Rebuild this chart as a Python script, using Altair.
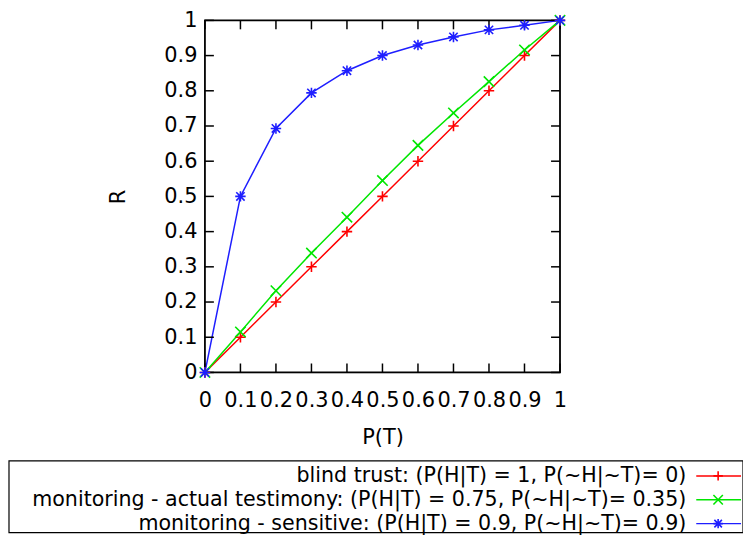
import altair as alt
import pandas as pd

# ---- data ----
p_t = [0.0, 0.1, 0.2, 0.3, 0.4, 0.5, 0.6, 0.7, 0.8, 0.9, 1.0]
blind_trust = [0.0, 0.1, 0.2, 0.3, 0.4, 0.5, 0.6, 0.7, 0.8, 0.9, 1.0]
actual_testimony = [0.0, 0.115, 0.232, 0.339, 0.441, 0.545, 0.645, 0.737, 0.826, 0.916, 1.0]
sensitive = [0.0, 0.5, 0.693, 0.794, 0.857, 0.9, 0.93, 0.953, 0.973, 0.986, 1.0]

series_names = [
    "blind trust: (P(H|T) = 1, P(~H|~T)= 0)",
    "monitoring - actual testimony: (P(H|T) = 0.75, P(~H|~T)= 0.35)",
    "monitoring - sensitive: (P(H|T) = 0.9, P(~H|~T)= 0.9)",
]
series_colors = ["#ff0000", "#00e600", "#1e1eff"]
series_shapes = [
    "M-1,0L1,0M0,-1L0,1",
    "M-1,-1L1,1M-1,1L1,-1",
    "M-1,0L1,0M0,-1L0,1M-0.8,-0.8L0.8,0.8M-0.8,0.8L0.8,-0.8",
]
tick_values = [0.0, 0.1, 0.2, 0.3, 0.4, 0.5, 0.6, 0.7, 0.8, 0.9, 1.0]

rows = []
for name, vals in zip(series_names, [blind_trust, actual_testimony, sensitive]):
    for x, y in zip(p_t, vals):
        rows.append({"P(T)": x, "R": y, "series": name})
df = pd.DataFrame(rows)
ticks_df = pd.DataFrame({"P(T)": tick_values, "R": tick_values})
legend_df = pd.DataFrame({"series": series_names})

W, H = 357, 354
FONT = "DejaVu Sans"
FS = 21
LFS = 20.7
TL = 9

color_scale = alt.Scale(domain=series_names, range=series_colors)
shape_scale = alt.Scale(domain=series_names, range=series_shapes)

common_axis = dict(values=tick_values, format="~g", grid=False, ticks=False,
                   domain=False, labelFontSize=FS, titleFontSize=FS,
                   labelFont=FONT, titleFont=FONT, labelColor="black",
                   titleColor="black", titleFontWeight="normal",
                   labelFlush=False, labelOverlap=False)
x_axis = alt.Axis(title="P(T)", labelPadding=17, titlePadding=16, **common_axis)
y_axis = alt.Axis(title="R", labelPadding=8, titlePadding=35, **common_axis)
x_scale = alt.Scale(domain=[0, 1], nice=False)
y_scale = alt.Scale(domain=[0, 1], nice=False)


def X():
    return alt.X("P(T):Q", scale=x_scale, axis=x_axis)


def Y():
    return alt.Y("R:Q", scale=y_scale, axis=y_axis)


frame = alt.Chart(pd.DataFrame({"a": [0]})).mark_rect(
    fill="white", stroke="black", strokeWidth=1.8).encode(
    x=alt.value(0), x2=alt.value(W), y=alt.value(0), y2=alt.value(H))

lines = alt.Chart(df).mark_line(strokeWidth=1.5).encode(
    x=X(), y=Y(),
    color=alt.Color("series:N", scale=color_scale, legend=None),
    detail="series:N",
)
points = alt.Chart(df).mark_point(filled=False, strokeWidth=1.6, size=110, opacity=1).encode(
    x=X(), y=Y(),
    color=alt.Color("series:N", scale=color_scale, legend=None),
    shape=alt.Shape("series:N", scale=shape_scale, legend=None),
)

tick_style = dict(color="black", strokeWidth=1.5)
tx_bottom = alt.Chart(ticks_df).mark_rule(**tick_style).encode(
    x=X(), y=alt.value(H), y2=alt.value(H - TL))
tx_top = alt.Chart(ticks_df).mark_rule(**tick_style).encode(
    x=X(), y=alt.value(0), y2=alt.value(TL))
ty_left = alt.Chart(ticks_df).mark_rule(**tick_style).encode(
    y=Y(), x=alt.value(0), x2=alt.value(TL))
ty_right = alt.Chart(ticks_df).mark_rule(**tick_style).encode(
    y=Y(), x=alt.value(W), x2=alt.value(W - TL))

main = alt.layer(frame, lines, tx_bottom, tx_top, ty_left, ty_right, points)

# ---- custom legend (symbols to the right of labels) ----
leg_y = alt.Y("series:N", scale=alt.Scale(type="point", domain=series_names,
                                          range=[458, 506], padding=0), axis=None)
box = alt.Chart(pd.DataFrame({"a": [0]})).mark_rect(
    fill="white", stroke="black", strokeWidth=1.2).encode(
    x=alt.value(-197), x2=alt.value(541), y=alt.value(443), y2=alt.value(515))
leg_text = alt.Chart(legend_df).mark_text(
    align="right", baseline="middle", fontSize=LFS, font=FONT, color="black").encode(
    x=alt.value(484), y=leg_y, text="series:N")
leg_line = alt.Chart(legend_df).mark_rule(strokeWidth=1.5).encode(
    x=alt.value(494), x2=alt.value(539), y=leg_y,
    color=alt.Color("series:N", scale=color_scale, legend=None))
leg_pt = alt.Chart(legend_df).mark_point(filled=False, strokeWidth=1.6, size=90, opacity=1).encode(
    x=alt.value(516), y=leg_y,
    color=alt.Color("series:N", scale=color_scale, legend=None),
    shape=alt.Shape("series:N", scale=shape_scale, legend=None))

legend = alt.layer(box, leg_line, leg_pt, leg_text)

chart = alt.layer(main, legend).resolve_scale(y="independent").properties(
    width=W, height=H,
    autosize=alt.AutoSizeParams(type="none"),
    padding={"left": 198, "top": 11, "right": 184, "bottom": 162},
).configure_view(stroke=None).configure(background="white")

chart.save("out.html", embed_options={"renderer": "svg", "actions": False})
